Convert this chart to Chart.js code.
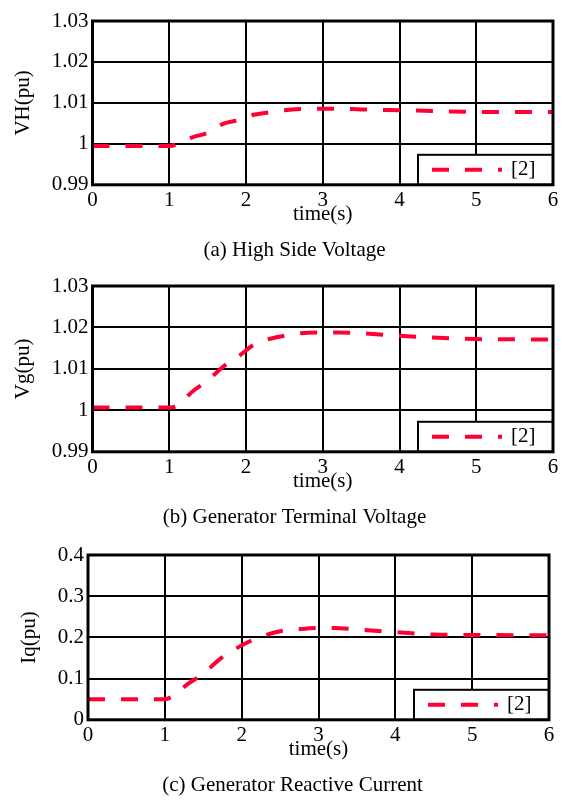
<!DOCTYPE html>
<html>
<head>
<meta charset="utf-8">
<script src="https://cdn.jsdelivr.net/npm/chart.js@4.4.1/dist/chart.umd.min.js"></script>
<style>
  body { margin: 0; background: #fff; width: 563px; height: 801px; overflow: hidden; position: relative; }
  canvas { position: absolute; left: 0; }
</style>
</head>
<body>
<canvas id="vh" width="563" height="267" style="top:0px"></canvas>
<canvas id="vg" width="563" height="267" style="top:267px"></canvas>
<canvas id="iq" width="563" height="268" style="top:534px"></canvas>
<script>
// values
const timeS = [0, 1, 1.1, 1.3, 1.5, 1.7, 1.9, 2.1, 2.3, 2.5, 2.7, 3, 3.2, 3.5, 4, 4.5, 5, 6];
const vhPu = [0.9995, 0.9995, 0.9999, 1.0016, 1.0027, 1.0049, 1.0058, 1.0071, 1.0077, 1.0082, 1.0085, 1.0086, 1.0086, 1.0084, 1.0082, 1.008, 1.0078, 1.0078];
const vgPu = [1.0007, 1.0007, 1.0011, 1.0045, 1.0072, 1.0105, 1.013, 1.0158, 1.0172, 1.018, 1.0186, 1.0188, 1.0188, 1.0186, 1.018, 1.0175, 1.0172, 1.0171];
const iqPu = [0.05, 0.05, 0.057, 0.087, 0.112, 0.145, 0.17, 0.19, 0.205, 0.215, 0.219, 0.223, 0.223, 0.219, 0.213, 0.207, 0.206, 0.205];

const timeTicks = [0, 1, 2, 3, 4, 5, 6];
const voltTicks = [0.99, 1, 1.01, 1.02, 1.03];
const iqTicks = [0, 0.1, 0.2, 0.3, 0.4];
const legendLabel = '[2]';

const serif = '"Liberation Serif", "Times New Roman", serif';
const font = { family: serif, size: 21 };

// frame around the plot + boxed legend in the lower right corner
const frameLegend = {
  id: 'frameLegend',
  afterDraw(chart) {
    const { ctx, chartArea: a } = chart;
    const ds = chart.data.datasets[0];
    const bx = a.right - 135, by = a.bottom - 30;
    const cy = by + 15;
    ctx.save();
    ctx.fillStyle = '#fff';
    ctx.fillRect(bx, by, a.right - bx, a.bottom - by);
    ctx.lineWidth = 2;
    ctx.strokeStyle = '#000';
    ctx.strokeRect(bx, by, a.right - bx, a.bottom - by);

    ctx.beginPath();
    ctx.setLineDash(ds.borderDash);
    ctx.lineWidth = ds.borderWidth;
    ctx.strokeStyle = ds.borderColor;
    ctx.moveTo(bx + 14, cy);
    ctx.lineTo(bx + 84, cy);
    ctx.stroke();
    ctx.setLineDash([]);

    ctx.fillStyle = '#000';
    ctx.font = '21px ' + serif;
    ctx.textBaseline = 'middle';
    ctx.fillText(legendLabel, bx + 93, cy);

    ctx.lineWidth = 3;
    ctx.strokeStyle = '#000';
    ctx.strokeRect(a.left, a.top, a.right - a.left, a.bottom - a.top);
    ctx.restore();
  }
};

function makeChart(id, values, yTicks, yLabel, caption, lay) {
  const ctx = document.getElementById(id).getContext('2d');
  return new Chart(ctx, {
    type: 'line',
    data: {
      datasets: [{
        data: timeS.map((t, i) => ({ x: t, y: values[i] })),
        borderColor: '#ff0033',
        borderWidth: 4,
        borderDash: [17, 16],
        borderCapStyle: 'butt',
        cubicInterpolationMode: 'monotone',
        pointRadius: 0,
        fill: false
      }]
    },
    options: {
      responsive: false,
      animation: false,
      devicePixelRatio: 1,
      layout: { padding: { left: 36, right: lay.right, top: lay.top, bottom: 0 } },
      plugins: {
        legend: { display: false },
        tooltip: { enabled: false },
        title: {
          display: true,
          position: 'bottom',
          text: caption,
          color: '#000',
          font: { family: serif, size: 21, weight: 'normal' },
          padding: { top: 11, bottom: 4 }
        }
      },
      scales: {
        x: {
          type: 'linear',
          min: timeTicks[0],
          max: timeTicks[timeTicks.length - 1],
          afterBuildTicks: s => { s.ticks = timeTicks.map(v => ({ value: v })); },
          afterFit: s => { s.height = 42; },
          grid: { color: '#000', lineWidth: 2, drawTicks: false },
          border: { display: false },
          ticks: { color: '#000', font, padding: 3, maxRotation: 0, callback: v => String(v) },
          title: { display: true, text: 'time(s)', color: '#000', font, padding: 0 }
        },
        y: {
          min: yTicks[0],
          max: yTicks[yTicks.length - 1],
          afterBuildTicks: s => { s.ticks = yTicks.map(v => ({ value: v })); },
          afterFit: s => { s.width = lay.axisW; },
          grid: { color: '#000', lineWidth: 2, drawTicks: false },
          border: { display: false },
          ticks: { color: '#000', font, padding: 4, callback: v => String(v) },
          title: { display: true, text: yLabel, color: '#000', font, padding: { top: lay.titlePad, bottom: 0 } }
        }
      }
    },
    plugins: [frameLegend]
  });
}

makeChart('vh', vhPu, voltTicks, 'VH(pu)', '(a) High Side Voltage', { top: 21, right: 10, axisW: 56.5, titlePad: -25 });
makeChart('vg', vgPu, voltTicks, 'Vg(pu)', '(b) Generator Terminal Voltage', { top: 19, right: 10, axisW: 56.5, titlePad: -25 });
makeChart('iq', iqPu, iqTicks, 'Iq(pu)', '(c) Generator Reactive Current', { top: 21, right: 14, axisW: 52, titlePad: -19 });
</script>
</body>
</html>
